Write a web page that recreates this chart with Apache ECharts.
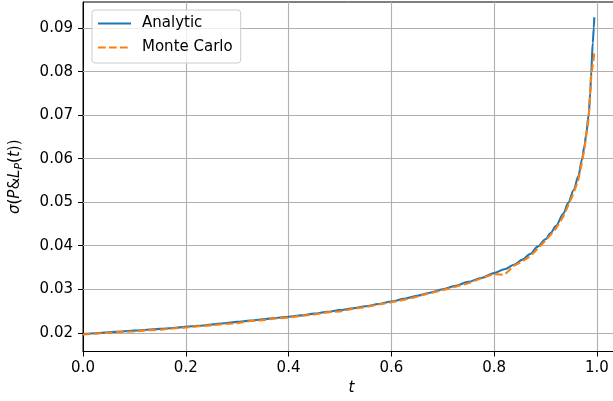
<!DOCTYPE html>
<html>
	<head>
		<meta charset="UTF-8">
		<title></title>
		<script src="https://cdn.jsdelivr.net/npm/echarts@6/dist/echarts.min.js"></script>
		<style>html,body{margin:0;padding:0;background:#fff;}</style>
	</head>
	<body>
		<div id="chart" style="width: 613px;height: 401px;"></div>
		<script type="text/javascript">
			// t grid shared by both curves
			var tValues = [0, 0.025, 0.05, 0.075, 0.1, 0.125, 0.15, 0.175, 0.2, 0.225, 0.25, 0.275, 0.3, 0.325, 0.35, 0.375,
				0.4, 0.425, 0.45, 0.475, 0.5, 0.525, 0.55, 0.575, 0.6, 0.625, 0.65, 0.675, 0.7, 0.725, 0.75, 0.775,
				0.8, 0.82, 0.84, 0.855, 0.87, 0.885, 0.9, 0.91, 0.92, 0.935, 0.944, 0.955, 0.964, 0.971, 0.976, 0.979,
				0.984, 0.987, 0.989, 0.992, 0.994, 0.995];
			var analytic = [0.0197, 0.0199, 0.0201, 0.0203, 0.0205, 0.0207, 0.0209, 0.0211, 0.0214, 0.0216, 0.0219, 0.0222, 0.0225, 0.0228, 0.0231, 0.0234,
				0.0237, 0.0240, 0.0244, 0.0248, 0.0252, 0.0256, 0.0261, 0.0266, 0.0272, 0.0278, 0.0285, 0.0292, 0.0300, 0.0308, 0.0317, 0.0326,
				0.0337, 0.0346, 0.0357, 0.0368, 0.0381, 0.0398, 0.0415, 0.0429, 0.0445, 0.0474, 0.0498, 0.0528, 0.0560, 0.0598, 0.0630, 0.0655,
				0.0700, 0.0750, 0.0800, 0.0866, 0.0900, 0.0925];
			var monteCarlo = [0.0196, 0.0198, 0.0200, 0.0202, 0.0203, 0.0206, 0.0207, 0.0210, 0.0212, 0.0215, 0.0217, 0.0220, 0.0222, 0.0227, 0.0229, 0.0233,
				0.0235, 0.0239, 0.0242, 0.0247, 0.0249, 0.0255, 0.0259, 0.0265, 0.0270, 0.0276, 0.0283, 0.0291, 0.0298, 0.0306, 0.0314, 0.0325,
				0.0335, 0.0333, 0.0355, 0.0364, 0.0376, 0.0393, 0.0412, 0.0425, 0.0439, 0.0468, 0.0492, 0.0522, 0.0552, 0.0592, 0.0625, 0.0650,
				0.0693, 0.0745, 0.0790, 0.0815, 0.0832, 0.0843];
			var seriesNames = ['Analytic', 'Monte Carlo'];
			var yTicks = [0.02, 0.03, 0.04, 0.05, 0.06, 0.07, 0.08, 0.09];

			function pairs(ys) {
				var out = [];
				for (var i = 0; i < tValues.length; i++) {
					out.push([tValues[i], ys[i]]);
				}
				return out;
			}

			var font = 'DejaVu Sans';
			var myChart = echarts.init(document.getElementById('chart'));
			var option = {
				animation: false,
				color: ['#1f77b4', '#ff7f0e'],
				grid: {
					left: 83, top: 2, bottom: 49.5, right: -7,
					outerBoundsMode: 'none',
					show: true, borderColor: '#000', borderWidth: 1, backgroundColor: 'transparent'
				},
				legend: {
					orient: 'vertical',
					left: 92, top: 10,
					data: seriesNames,
					itemWidth: 33, itemHeight: 14, itemGap: 9,
					padding: [6, 8, 8, 5],
					backgroundColor: 'rgba(255,255,255,0.8)',
					borderColor: '#cccccc', borderWidth: 1, borderRadius: 3,
					itemStyle: {opacity: 0},
					textStyle: {fontFamily: font, fontSize: 15, color: '#000', padding: [0, 0, 0, 6]}
				},
				xAxis: {
					type: 'value',
					min: 0, max: 1.045, interval: 0.2,
					name: 't',
					nameLocation: 'middle',
					nameGap: 29,
					nameTextStyle: {fontFamily: font, fontSize: 15, fontStyle: 'italic', color: '#000'},
					axisLine: {lineStyle: {color: '#000', width: 1}},
					axisTick: {show: true, length: 5, lineStyle: {color: '#000'}},
					axisLabel: {
						margin: 9, fontFamily: font, fontSize: 15, color: '#000', showMaxLabel: false,
						formatter: function (v) { return v.toFixed(1); }
					},
					splitLine: {show: true, lineStyle: {color: '#b0b0b0', width: 1.1}}
				},
				yAxis: {
					type: 'value',
					min: 0.0157, max: 0.096,
					name: '{i|σ}{n|(}{i|P}{n|&}{i|L}{s|P}{n|(}{i|t}{n|))}',
					nameLocation: 'middle',
					nameGap: 58,
					nameRotate: 90,
					nameTextStyle: {
						fontFamily: font, fontSize: 15, color: '#000',
						rich: {
							i: {fontFamily: font, fontSize: 15, fontStyle: 'italic', color: '#000', lineHeight: 20},
							n: {fontFamily: font, fontSize: 15, color: '#000', lineHeight: 20},
							s: {fontFamily: font, fontSize: 11, fontStyle: 'italic', color: '#000', lineHeight: 20, verticalAlign: 'bottom', padding: [6, 0, 0, 0]}
						}
					},
					axisLine: {show: true, lineStyle: {color: '#000', width: 1}},
					axisTick: {show: true, length: 5, lineStyle: {color: '#000'}, customValues: yTicks},
					axisLabel: {
						margin: 10, fontFamily: font, fontSize: 15, color: '#000',
						customValues: yTicks,
						formatter: function (v) { return v.toFixed(2); }
					},
					splitLine: {show: false}
				},
				series: [
					{
						name: seriesNames[0],
						type: 'line',
						data: pairs(analytic),
						symbol: 'none',
						smooth: 0.3,
						smoothMonotone: 'x',
						lineStyle: {width: 2.1, color: '#1f77b4'},
						z: 2,
						// horizontal grid lines at the y ticks
						markLine: {
							silent: true,
							symbol: 'none',
							label: {show: false},
							lineStyle: {color: '#b0b0b0', width: 1.1, type: 'solid'},
							z: 1,
							data: yTicks.map(function (v) { return {yAxis: v}; })
						}
					},
					{
						name: seriesNames[1],
						type: 'line',
						data: pairs(monteCarlo),
						symbol: 'none',
						lineStyle: {width: 2.1, color: '#ff7f0e', type: [7.7, 3.3]},
						z: 3
					}
				]
			};
			myChart.setOption(option);
		</script>
	</body>
</html>
